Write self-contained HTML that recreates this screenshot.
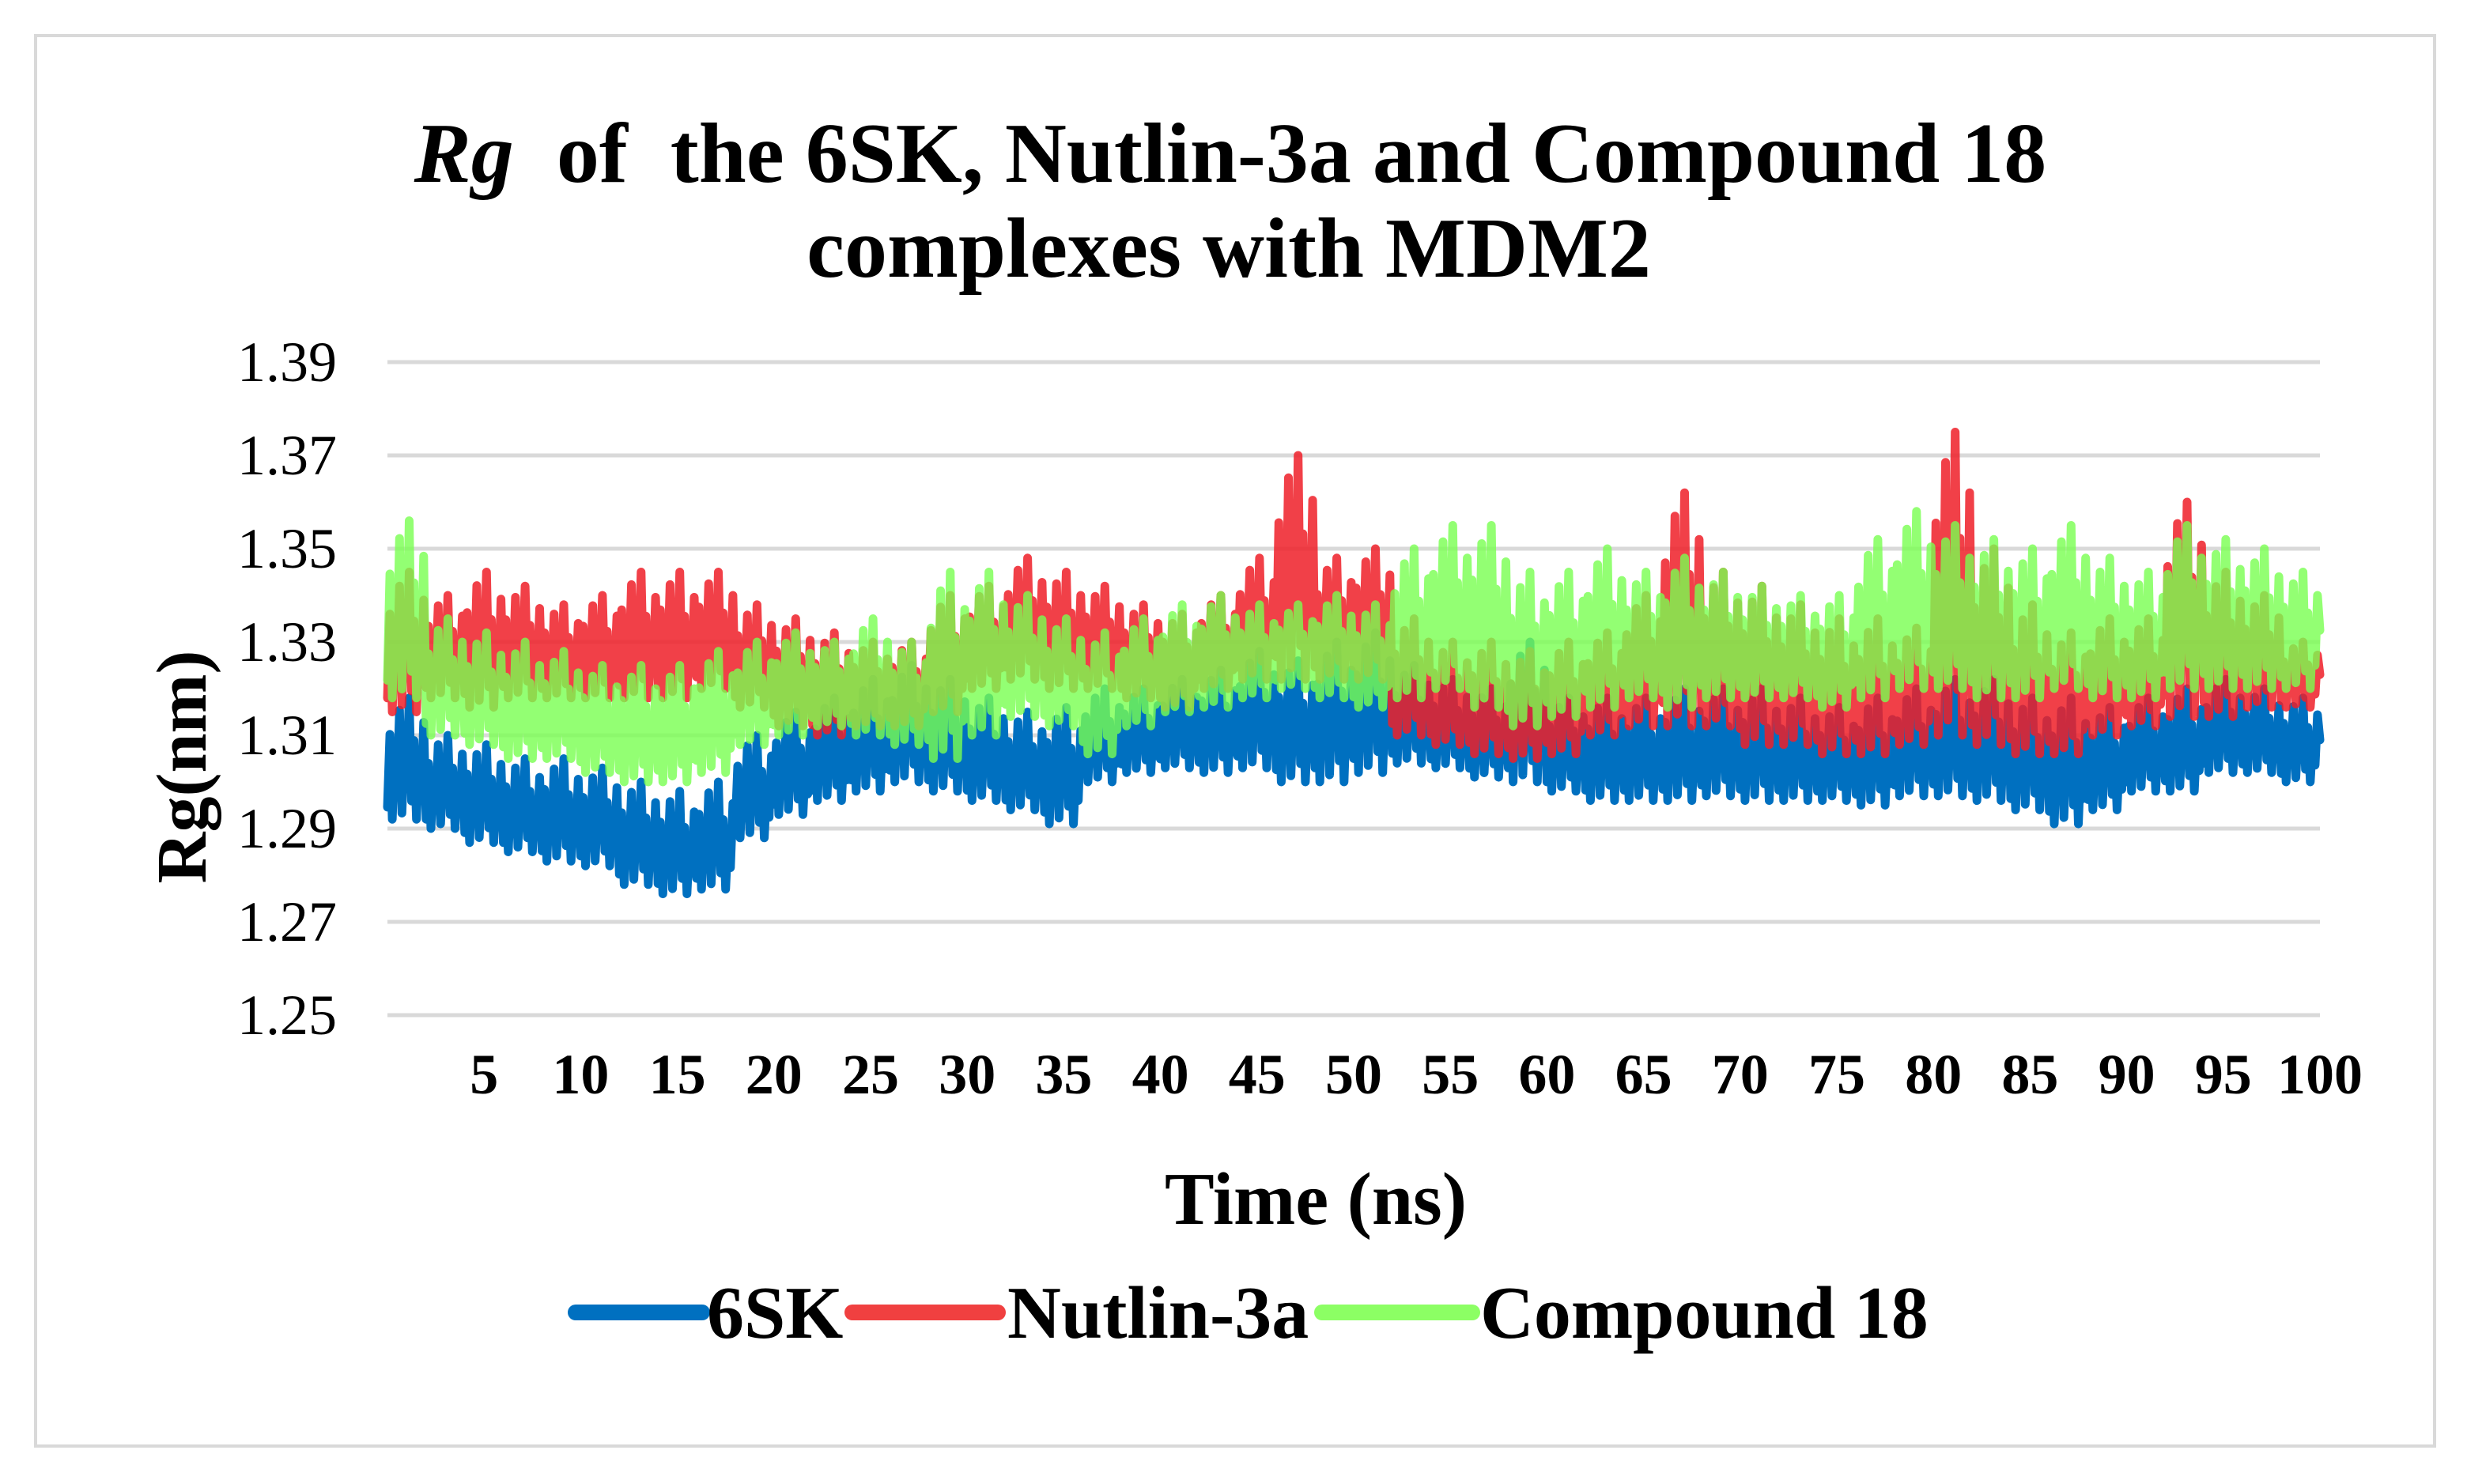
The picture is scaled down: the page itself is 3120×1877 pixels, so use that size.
<!DOCTYPE html>
<html><head><meta charset="utf-8"><style>
html,body{margin:0;padding:0;background:#fff;}
svg{display:block;}
text{font-family:"Liberation Serif",serif;}
</style></head><body>
<svg id="chart" width="3120" height="1877" viewBox="0 0 3120 1877" xmlns="http://www.w3.org/2000/svg">
<rect x="45" y="45" width="3034" height="1784" fill="#fff" stroke="#d9d9d9" stroke-width="4"/>
<text x="1556" y="230" text-anchor="middle" font-size="108" font-weight="bold" xml:space="preserve"><tspan font-style="italic">Rg</tspan>  of  the 6SK, Nutlin-3a and Compound 18</text>
<text x="1554" y="350" text-anchor="middle" font-size="108" font-weight="bold">complexes with MDM2</text>
<g id="grid"></g>
<g id="series"></g>
<g id="ticks"></g>
<text x="1664" y="1548" text-anchor="middle" font-size="94" font-weight="bold">Time (ns)</text>
<text transform="translate(260,970) rotate(-90)" text-anchor="middle" font-size="90" font-weight="bold">Rg(nm)</text>
<g>
<line x1="728" y1="1660" x2="888" y2="1660" stroke="#0070C0" stroke-width="20" stroke-linecap="round"/>
<text x="894" y="1692" font-size="94" font-weight="bold">6SK</text>
<line x1="1078" y1="1660" x2="1262" y2="1660" stroke="#F04040" stroke-width="20" stroke-linecap="round"/>
<text x="1274" y="1692" font-size="94" font-weight="bold">Nutlin-3a</text>
<line x1="1672" y1="1660" x2="1862" y2="1660" stroke="#8CFF64" stroke-width="20" stroke-linecap="round"/>
<text x="1872" y="1692" font-size="94" font-weight="bold">Compound 18</text>
</g>
</svg>
<script>
const yTicks = [1.25,1.27,1.29,1.31,1.33,1.35,1.37,1.39];
const xTicks = [5,10,15,20,25,30,35,40,45,50,55,60,65,70,75,80,85,90,95,100];
// each entry = one 2-ns bin (min / max Rg in nm)
const blueLo = [1.292,1.29,1.287,1.285,1.283,1.282,1.278,1.276,1.277,1.288,1.293,1.296,1.298,1.300,1.298,1.296,1.294,1.291,1.300,1.302,1.303,1.302,1.303,1.300,1.300,1.302,1.304,1.303,1.301,1.300,1.298,1.296,1.296,1.296,1.297,1.296,1.296,1.296,1.295,1.297,1.297,1.296,1.294,1.291,1.294,1.298,1.298,1.302,1.302,1.300];
const blueHi = [1.318,1.31,1.308,1.305,1.305,1.303,1.300,1.298,1.300,1.310,1.315,1.318,1.322,1.325,1.322,1.318,1.315,1.316,1.320,1.320,1.322,1.324,1.328,1.326,1.330,1.332,1.325,1.322,1.320,1.330,1.318,1.318,1.318,1.320,1.320,1.320,1.318,1.316,1.318,1.320,1.322,1.322,1.318,1.318,1.316,1.318,1.320,1.322,1.320,1.318];
const redLo = [1.315,1.318,1.316,1.318,1.318,1.318,1.318,1.318,1.320,1.316,1.312,1.310,1.312,1.312,1.315,1.320,1.322,1.320,1.320,1.318,1.316,1.320,1.322,1.322,1.322,1.322,1.310,1.308,1.306,1.305,1.306,1.310,1.312,1.312,1.312,1.308,1.308,1.306,1.306,1.308,1.310,1.308,1.306,1.306,1.310,1.312,1.314,1.314,1.316,1.316];
const redHi = [1.345,1.340,1.345,1.342,1.338,1.340,1.345,1.345,1.345,1.338,1.335,1.332,1.330,1.330,1.340,1.342,1.348,1.345,1.342,1.338,1.336,1.340,1.348,1.370,1.348,1.350,1.335,1.330,1.330,1.328,1.330,1.332,1.340,1.362,1.345,1.342,1.338,1.335,1.335,1.333,1.375,1.350,1.338,1.332,1.335,1.335,1.360,1.345,1.340,1.330];
const greenLo = [1.318,1.310,1.308,1.305,1.305,1.302,1.300,1.300,1.302,1.308,1.310,1.312,1.310,1.308,1.305,1.310,1.314,1.312,1.306,1.312,1.315,1.316,1.318,1.320,1.318,1.316,1.318,1.320,1.316,1.312,1.314,1.316,1.318,1.316,1.318,1.318,1.318,1.316,1.318,1.320,1.320,1.318,1.318,1.320,1.318,1.318,1.320,1.320,1.320,1.320];
const greenHi = [1.356,1.335,1.332,1.330,1.328,1.325,1.325,1.325,1.328,1.330,1.332,1.330,1.335,1.330,1.345,1.345,1.340,1.335,1.332,1.335,1.338,1.340,1.338,1.338,1.340,1.338,1.350,1.355,1.355,1.345,1.345,1.350,1.345,1.348,1.345,1.342,1.340,1.340,1.352,1.358,1.355,1.352,1.350,1.355,1.348,1.345,1.355,1.352,1.350,1.345];

const NS = 'http://www.w3.org/2000/svg';
const X0 = 490, X1 = 2934, Y0 = 1284, Y1 = 458;
function xs(t){ return X0 + (t/100)*(X1-X0); }
function ys(v){ return Y0 - (v-1.25)/(1.39-1.25)*(Y0-Y1); }

const grid = document.getElementById('grid');
const ticks = document.getElementById('ticks');
yTicks.forEach(v=>{
  const l = document.createElementNS(NS,'line');
  l.setAttribute('x1',X0); l.setAttribute('x2',X1);
  l.setAttribute('y1',ys(v)); l.setAttribute('y2',ys(v));
  l.setAttribute('stroke','#d9d9d9'); l.setAttribute('stroke-width','5');
  
  
  grid.appendChild(l);
  const t = document.createElementNS(NS,'text');
  t.setAttribute('x',426); t.setAttribute('y',ys(v)+24);
  t.setAttribute('text-anchor','end'); t.setAttribute('font-size','72');
  t.textContent = v.toFixed(2);
  
  
  ticks.appendChild(t);
});
xTicks.forEach(v=>{
  const t = document.createElementNS(NS,'text');
  t.setAttribute('x',xs(v)); t.setAttribute('y',1383);
  t.setAttribute('text-anchor','middle'); t.setAttribute('font-size','72'); t.setAttribute('font-weight','bold');
  t.textContent = v;
  
  
  ticks.appendChild(t);
});

// fixed within-bin sampling pattern (fraction of the bin's range), used to fill the noisy band
const pattern = [0.1,0.7,0.0,0.55,0.25,0.9,0.05,0.6,0.3,1.0,0.15,0.65,0.0,0.5,0.2,0.8];
const series = document.getElementById('series');
function draw(lo, hi, color, opacity, name){
  const pts = [];
  for(let i=0;i<lo.length;i++){
    const t0 = i*2;
    pattern.forEach((f,k)=>{
      const v = lo[i] + f*(hi[i]-lo[i]);
      pts.push(xs(t0 + k*2/pattern.length).toFixed(1)+','+ys(v).toFixed(1));
    });
  }
  const last = lo.length-1;
  pts.push(xs(100)+','+ys((lo[last]+hi[last])/2));
  const p = document.createElementNS(NS,'polyline');
  p.setAttribute('points',pts.join(' '));
  p.setAttribute('fill','none'); p.setAttribute('stroke',color);
  p.setAttribute('stroke-width','11'); p.setAttribute('stroke-linejoin','round'); p.setAttribute('stroke-linecap','round');
  p.setAttribute('stroke-opacity',opacity);
  
  
  series.appendChild(p);
}
draw(blueLo, blueHi, '#0070C0', 1, 'series-6sk');
draw(redLo, redHi, '#EE1E28', 0.85, 'series-nutlin-3a');
draw(greenLo, greenHi, '#78FF50', 0.8, 'series-compound-18');
</script>
</body></html>
